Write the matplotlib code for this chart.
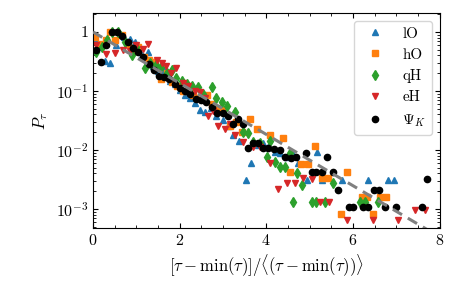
import numpy as np
import matplotlib
matplotlib.use("Agg")
import matplotlib.pyplot as plt
from matplotlib.ticker import FuncFormatter, LogLocator, MultipleLocator, NullFormatter

# series
lO_x = [0.05, 0.16, 0.28, 0.40, 0.52, 0.63, 0.71, 0.85, 0.98, 1.13, 1.26, 1.38, 1.50, 1.65, 1.77,
        1.89, 2.00, 2.12, 2.23, 2.35, 2.47, 2.59, 2.72, 2.84, 3.00, 3.12, 3.24, 3.36, 3.54, 3.65,
        3.80, 3.93, 4.05, 4.20, 4.32, 4.47, 4.60, 4.74, 4.95, 5.18, 5.28, 5.74, 6.36, 6.80, 6.94]
lO_y = [0.72, 0.55, 0.32, 0.30, 0.60, 0.92, 0.82, 0.75, 0.68, 0.40, 0.45, 0.26, 0.22, 0.227, 0.15,
        0.13, 0.105, 0.085, 0.075, 0.062, 0.048, 0.044, 0.052, 0.038, 0.032, 0.025, 0.018, 0.014,
        0.0031, 0.0059, 0.012, 0.013, 0.011, 0.0093, 0.0087, 0.0075, 0.0093, 0.006, 0.0031, 0.0093,
        0.0031, 0.0031, 0.0031, 0.0031, 0.0031]

hO_x = [0.05, 0.18, 0.30, 0.39, 0.51, 0.66, 0.80, 0.93, 1.05, 1.17, 1.30, 1.42, 1.57, 1.70, 1.82,
        1.95, 2.07, 2.19, 2.31, 2.45, 2.63, 2.75, 2.87, 2.97, 3.16, 3.30, 3.45, 3.63, 3.78, 4.09,
        4.39, 4.55, 4.80, 4.97, 5.13, 5.28, 5.43, 5.73, 5.86, 6.21, 6.32, 6.47, 6.63, 6.76]
hO_y = [0.83, 0.62, 0.72, 1.0, 0.73, 0.88, 0.62, 0.48, 0.55, 0.38, 0.34, 0.31, 0.16, 0.20, 0.14,
        0.12, 0.10, 0.11, 0.085, 0.075, 0.085, 0.060, 0.052, 0.048, 0.025, 0.030, 0.020, 0.033,
        0.023, 0.018, 0.016, 0.0042, 0.0058, 0.0058, 0.0117, 0.0033, 0.0033, 0.00081, 0.0042,
        0.0016, 0.0016, 0.00081, 0.0016, 0.0016]

qH_x = [0.08, 0.20, 0.33, 0.45, 0.57, 0.74, 0.89, 1.00, 1.20, 1.32, 1.45, 1.58, 1.70, 1.82, 1.92,
        2.05, 2.18, 2.28, 2.42, 2.55, 2.74, 2.85, 2.97, 3.10, 3.28, 3.47, 3.59, 3.70, 3.85, 4.01,
        4.09, 4.20, 4.32, 4.43, 4.55, 4.62, 4.72, 4.82, 5.05, 5.15, 5.36, 5.55, 6.17, 6.28, 6.59]
qH_y = [0.46, 0.55, 0.72, 1.0, 0.98, 0.68, 0.41, 0.55, 0.24, 0.30, 0.28, 0.25, 0.20, 0.227, 0.164,
        0.15, 0.13, 0.12, 0.118, 0.09, 0.118, 0.075, 0.066, 0.055, 0.044, 0.020, 0.0196, 0.0135,
        0.013, 0.0077, 0.014, 0.0063, 0.0052, 0.0052, 0.0088, 0.0013, 0.004, 0.0025, 0.0013,
        0.0013, 0.0013, 0.0027, 0.0013, 0.0013, 0.0013]

eH_x = [0.06, 0.30, 0.51, 0.70, 0.85, 1.00, 1.15, 1.28, 1.47, 1.60, 1.69, 1.80, 1.92, 2.08, 2.20,
        2.35, 2.47, 2.58, 2.66, 2.78, 2.89, 3.05, 3.17, 3.28, 3.47, 3.70, 3.86, 4.09, 4.28, 4.47,
        4.66, 4.86, 5.05, 5.24, 5.45, 5.86, 6.46, 7.05, 7.44, 7.67]
eH_y = [0.60, 0.42, 0.44, 0.50, 0.48, 0.60, 0.52, 0.62, 0.335, 0.30, 0.26, 0.20, 0.24, 0.135, 0.12,
        0.10, 0.097, 0.075, 0.037, 0.045, 0.025, 0.023, 0.028, 0.018, 0.0137, 0.0113, 0.011,
        0.0059, 0.0022, 0.0027, 0.0027, 0.0033, 0.0032, 0.0013, 0.0013, 0.00065, 0.00065,
        0.00065, 0.00095, 0.00095]

psi_x = [0.06, 0.19, 0.30, 0.45, 0.55, 0.68, 0.80, 0.92, 1.03, 1.16, 1.29, 1.40, 1.52, 1.65, 1.76,
         1.89, 2.02, 2.13, 2.25, 2.38, 2.50, 2.61, 2.74, 2.87, 2.99, 3.11, 3.23, 3.35, 3.46, 3.59,
         3.70, 3.82, 3.93, 4.05, 4.19, 4.32, 4.43, 4.57, 4.68, 4.92, 5.05, 5.16, 5.28, 5.40, 5.54,
         5.65, 5.90, 6.01, 6.24, 6.36, 6.49, 6.61, 6.74, 6.99, 7.59, 7.72]
psi_y = [0.50, 0.31, 0.60, 0.99, 0.99, 0.87, 0.68, 0.54, 0.45, 0.37, 0.29, 0.23, 0.18, 0.17, 0.16,
         0.13, 0.113, 0.101, 0.088, 0.072, 0.070, 0.066, 0.054, 0.043, 0.043, 0.038, 0.028, 0.034,
         0.028, 0.0106, 0.0129, 0.0129, 0.0106, 0.0106, 0.0102, 0.0100, 0.0077, 0.0072, 0.0077,
         0.0087, 0.0043, 0.0043, 0.0043, 0.0077, 0.0043, 0.0021, 0.00107, 0.00107, 0.00107,
         0.00107, 0.0021, 0.0021, 0.00107, 0.00107, 0.00107, 0.0032]


def main():
    plt.rcParams["font.family"] = "serif"
    plt.rcParams["font.serif"] = ["cmr10"]
    plt.rcParams["mathtext.fontset"] = "cm"
    plt.rcParams["axes.formatter.use_mathtext"] = True
    plt.rcParams["font.size"] = 11

    fig = plt.figure(figsize=(4.63, 2.86), dpi=100)
    ax = fig.add_axes([93 / 463, 1 - 227.7 / 286, (439.5 - 93) / 463, (227.7 - 13.3) / 286])

    ax.plot(lO_x, lO_y, "^", color="#1f77b4", ms=5, label="lO")
    ax.plot(hO_x, hO_y, "s", color="#ff7f0e", ms=4.4, label="hO")
    ax.plot(qH_x, qH_y, "d", color="#2ca02c", ms=5, label="qH")
    ax.plot(eH_x, eH_y, "v", color="#d62728", ms=5, label="eH")
    ax.plot(psi_x, psi_y, "o", color="black", ms=4.5, label=r"$\Psi_K$")

    # exponential reference
    xx = np.linspace(0, 8, 200)
    ax.plot(xx, np.exp(-xx), "--", color="gray", lw=2.2, dashes=(3.5, 2.2), zorder=5)

    ax.set_yscale("log")
    ax.set_xlim(0, 8)
    ax.set_ylim(4.8e-4, 2.07)

    ax.xaxis.set_major_locator(MultipleLocator(2))
    ax.xaxis.set_minor_locator(MultipleLocator(0.5))
    ax.yaxis.set_major_locator(LogLocator(base=10, numticks=10))
    ax.yaxis.set_minor_locator(LogLocator(base=10, subs=np.arange(2, 10), numticks=20))
    ax.yaxis.set_minor_formatter(NullFormatter())

    def ylab(v, pos):
        e = int(round(np.log10(v)))
        if e == 0:
            return "1"
        return r"$10^{%d}$" % e
    ax.yaxis.set_major_formatter(FuncFormatter(ylab))

    ax.tick_params(which="both", direction="in", top=True, right=True, labelsize=11.5)
    ax.tick_params(which="major", length=3.5)
    ax.tick_params(which="minor", length=2)

    ax.set_xlabel(r"$[\tau - \min(\tau)]/\langle(\tau - \min(\tau))\rangle$", fontsize=12)
    ax.set_ylabel(r"$P_\tau$", fontsize=12)

    ax.legend(loc="upper right", fontsize=10.8)

    plt.savefig("out.png")


if __name__ == "__main__":
    main()
